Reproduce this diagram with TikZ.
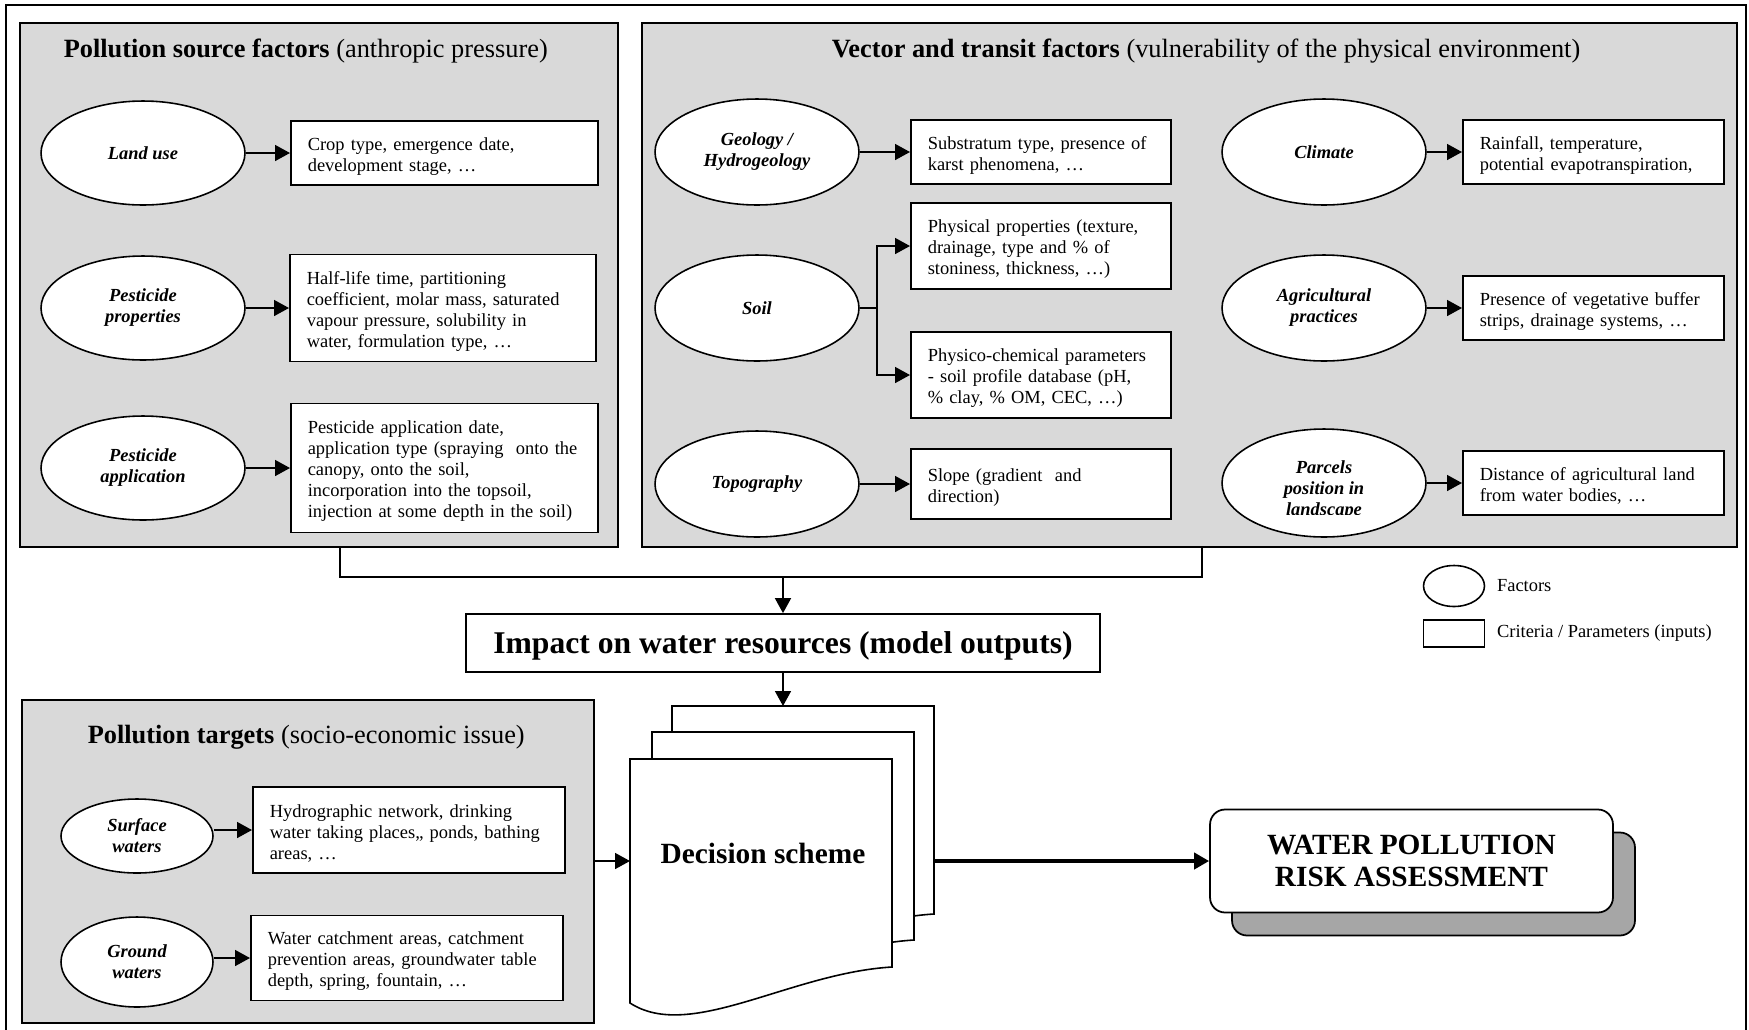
\documentclass[tikz,border=0pt]{standalone}
\usepackage{fontspec}
\setmainfont{Liberation Serif}
\usetikzlibrary{calc, positioning}
\usetikzlibrary{arrows.meta}
\usetikzlibrary{shapes.geometric}
\usetikzlibrary{shadows}

\definecolor{panelgray}{HTML}{D9D9D9}
\definecolor{shadowgray}{HTML}{A6A6A6}

\tikzset{
  panel/.style={draw, fill=panelgray, line width=1pt, inner sep=0pt},
  paneltitle/.style={anchor=west, inner sep=0pt, font=\fontsize{15}{18}\selectfont},
  factortext/.style={inner sep=0pt, align=center,
    font=\fontsize{10.5}{12}\selectfont\bfseries\itshape},
  factor/.style={factortext, ellipse, draw, fill=white, line width=0.9pt},
  param/.style={rectangle, draw, fill=white, line width=0.9pt, anchor=west,
    align=left, inner xsep=0.34cm, inner ysep=0pt, text width=#1,
    execute at begin node={\rule{0pt}{11pt}},
    font=\fontsize{10.5}{12}\selectfont},
  legendtext/.style={inner sep=0pt, font=\fontsize{10.5}{12}\selectfont},
  feed/.style={line width=0.9pt, -{Triangle[length=0.3cm,width=0.32cm]}},
}

\begin{document}
\begin{tikzpicture}[x=0.02cm, y=-0.02cm, line width=0.9pt]
\useasboundingbox (0,0) rectangle (1749,1029);

% Outer frame; its lower edge runs off the page.
\draw[line width=1pt] (6,5) rectangle (1746,1040);

% Grey panels and their titles.
\node[panel, minimum width=11.96cm, minimum height=10.48cm] (source) at (319,285) {};
\node[panel, minimum width=21.9cm, minimum height=10.48cm] (vector) at (1189.5,285) {};
\node[panel, minimum width=11.44cm, minimum height=6.46cm] (targets) at (308,861.5) {};

\node[paneltitle] (sourcetitle) at (63,51)
  {\textbf{Pollution source factors} (anthropic pressure)};
\node[paneltitle] (vectortitle) at (831,51)
  {\textbf{Vector and transit factors} (vulnerability of the physical environment)};
\node[paneltitle] (targetstitle) at (87,737)
  {\textbf{Pollution targets} (socio-economic issue)};

% Pollution source factors.
\node[factor, minimum width=4.08cm, minimum height=2.08cm] (landuse) at (143,153) {Land use};
\node[factor, minimum width=4.08cm, minimum height=2.08cm] (properties) at (143,308) {Pesticide\\properties};
\node[factor, minimum width=4.08cm, minimum height=2.08cm] (pestapp) at (143,468) {Pesticide\\application};

\node[param=5.46cm, minimum height=1.28cm] (crop) at (290,153)
  {Crop type, emergence date,\\development stage, …};
\node[param=5.44cm, minimum height=2.14cm] (halflife) at (289,308)
  {Half-life time, partitioning\\coefficient, molar mass, saturated\\vapour pressure, solubility in\\water, formulation type, …};
\node[param=5.46cm, minimum height=2.58cm] (appbox) at (290,468)
  {Pesticide application date,\\application type (spraying~ onto the\\canopy, onto the soil,\\incorporation into the topsoil,\\injection at some depth in the soil)};

% Vector and transit factors, left column.
\node[factor, minimum width=4.08cm, minimum height=2.12cm] (geology) at (757,152) {Geology /\\Hydrogeology};
\node[factor, minimum width=4.08cm, minimum height=2.12cm] (soil) at (757,308) {Soil};
\node[factor, minimum width=4.08cm, minimum height=2.12cm] (topography) at (757,484) {Topography};

\node[param=4.52cm, minimum height=1.28cm] (substratum) at (910,152)
  {Substratum type, presence of\\karst phenomena, …};
\node[param=4.52cm, minimum height=1.72cm] (physical) at (910,246)
  {Physical properties (texture,\\drainage, type and \% of\\stoniness, thickness, …)};
\node[param=4.52cm, minimum height=1.72cm] (chemical) at (910,375)
  {Physico-chemical parameters\\- soil profile database (pH,\\\% clay, \% OM, CEC, …)};
\node[param=4.52cm, minimum height=1.4cm] (slope) at (910,484)
  {Slope (gradient~ and\\direction)};

% Vector and transit factors, right column.
\node[factor, minimum width=4.08cm, minimum height=2.12cm] (climate) at (1324,152) {Climate};
\node[factor, minimum width=4.08cm, minimum height=2.12cm] (practices) at (1324,308) {Agricultural\\practices};
\node[factor, minimum width=4.08cm, minimum height=2.16cm] (parcels) at (1324,483) {};
\begin{scope}
  \clip (1222,440) rectangle (1426,514);
  \node[factortext] (parcelslabel) at (1324,490) {Parcels\\position in\\landscape};
\end{scope}

\node[param=4.54cm, minimum height=1.28cm] (rainfall) at (1462,152)
  {Rainfall, temperature,\\potential evapotranspiration,};
\node[param=4.54cm, minimum height=1.28cm] (presence) at (1462,308)
  {Presence of vegetative buffer\\strips, drainage systems, …};
\node[param=4.54cm, minimum height=1.28cm] (distance) at (1462,483)
  {Distance of agricultural land\\from water bodies, …};

% Pollution targets.
\node[factor, minimum width=3.04cm, minimum height=1.48cm] (surface) at (137,836) {Surface\\waters};
\node[factor, minimum width=3.04cm, minimum height=1.8cm] (ground) at (137,962) {Ground\\waters};

\node[param=5.56cm, minimum height=1.72cm] (hydro) at (252,830)
  {Hydrographic network, drinking\\water taking places,, ponds, bathing\\areas, …};
\node[param=5.56cm, minimum height=1.7cm] (catchment) at (250,958)
  {Water catchment areas, catchment\\prevention areas, groundwater table\\depth, spring, fountain, …};

% Factor to criteria arrows.
\foreach \a/\b in {landuse/crop, properties/halflife, pestapp/appbox,
  geology/substratum, topography/slope, climate/rainfall,
  practices/presence, parcels/distance}
  \draw[feed] (\a) -- (\b);
\draw[feed] (surface.east |- hydro) -- (hydro);
\draw[feed] (ground.east |- catchment) -- (catchment);

\coordinate (soilfork) at (877,308);
\draw (soil) -- (soilfork);
\draw[feed] (soilfork) |- (physical);
\draw[feed] (soilfork) |- (chemical);

% Model outputs.
\node[draw, fill=white, line width=1pt, minimum width=12.68cm, minimum height=1.16cm,
  text depth=0pt, font=\fontsize{18}{21}\selectfont\bfseries] (impact) at (783,643)
  {Impact on water resources (model outputs)};

\coordinate (merge) at (783,577);
\coordinate (dtop) at (783,706);
\coordinate (dleft) at (630,861);
\coordinate (dright) at (934,861);
\draw ([xshift=0.42cm]source.south) |- (merge) -| ([xshift=0.25cm]vector.south);
\draw[feed] (merge) -- (impact);
\draw[feed] (impact) -- (dtop);

% Stack of decision sheets, back to front.
\foreach \dx/\dy in {42/-53, 22/-27, 0/0}
  \draw[fill=white, shift={(\dx,\dy)}] (630,759) -- (892,759) -- (892,967)
    .. controls (790,973) and (690,1042) .. (630,1003) -- cycle;
\node[font=\fontsize{16.7}{18.5}\selectfont\bfseries] (decision) at (763,853) {Decision scheme};
\draw[feed] (targets.east |- dleft) -- (dleft);

% Final assessment.
\node[draw, fill=white, rounded corners=0.3cm, line width=1pt, minimum width=8.06cm,
  minimum height=2.06cm, align=center, font=\fontsize{16.7}{18.5}\selectfont\bfseries,
  copy shadow={shadow xshift=0.44cm, shadow yshift=-0.46cm, fill=shadowgray, draw=black, line width=1pt}]
  (risk) at (1411.5,861) {WATER POLLUTION\\RISK ASSESSMENT};
\draw[feed, line width=2.4pt] (dright) -- (risk);

% Legend.
\node[ellipse, draw, minimum width=1.22cm, minimum height=0.82cm, inner sep=0pt] (keyfactor) at (1454,586) {};
\node[draw, minimum width=1.22cm, minimum height=0.54cm, inner sep=0pt] (keyparam) at (1454,633.5) {};
\node[legendtext, right=0.22cm of keyfactor] (keyfactortext) {Factors};
\node[legendtext, right=0.22cm of keyparam] (keyparamtext) {Criteria / Parameters (inputs)};
\end{tikzpicture}
\end{document}
